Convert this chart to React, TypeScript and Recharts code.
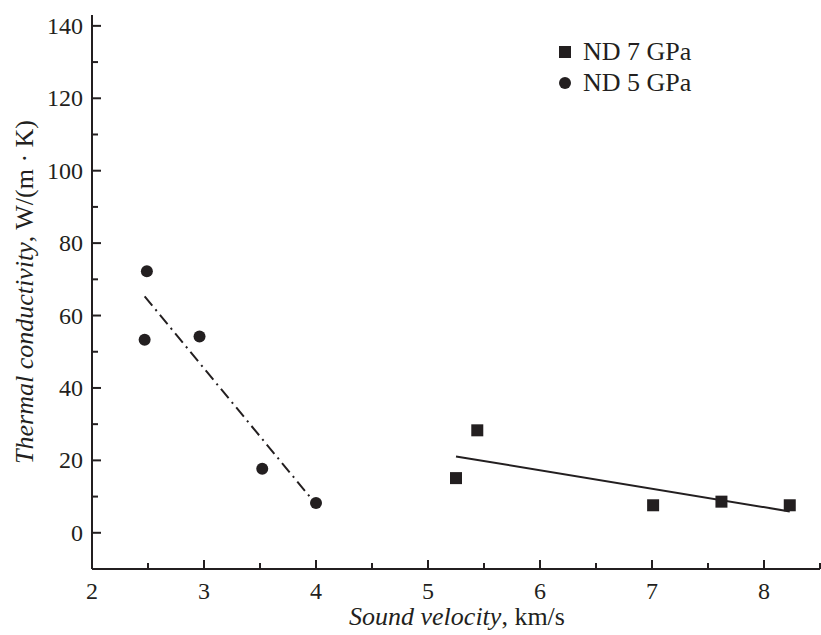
import React from 'react';
import { ScatterChart, Scatter, XAxis, YAxis, Label } from 'recharts';

// ND 5 GPa (circles)
const nd5Velocity = [2.49, 2.47, 2.96, 3.52, 4.0];
const nd5Conductivity = [72.2, 53.3, 54.2, 17.7, 8.2];
// ND 7 GPa (squares)
const nd7Velocity = [5.25, 5.44, 7.01, 7.62, 8.23];
const nd7Conductivity = [15.1, 28.3, 7.6, 8.6, 7.6];
// fitted lines (end points)
const fit5Velocity = [2.47, 3.97];
const fit5Conductivity = [65.3, 9.0];
const fit7Velocity = [5.25, 8.23];
const fit7Conductivity = [21.1, 5.9];

const xTicks = [2, 2.5, 3, 3.5, 4, 4.5, 5, 5.5, 6, 6.5, 7, 7.5, 8, 8.5];
const yTicks = [0, 10, 20, 30, 40, 50, 60, 70, 80, 90, 100, 110, 120, 130, 140];

const legendItems = ['ND 7 GPa', 'ND 5 GPa'];

const toPoints = (xs: number[], ys: number[]) => xs.map((x, i) => ({ x, y: ys[i] }));

const nd5 = toPoints(nd5Velocity, nd5Conductivity);
const nd7 = toPoints(nd7Velocity, nd7Conductivity);
const fit5 = toPoints(fit5Velocity, fit5Conductivity);
const fit7 = toPoints(fit7Velocity, fit7Conductivity);

const INK = '#231f20';
const FONT = "'Liberation Serif', serif";
const textStyle = { fontFamily: FONT, fontSize: 24 };
const titleStyle = { fontFamily: FONT, fontSize: 26 };

const XTick = (props: any) => {
  const { x, y, payload } = props;
  const v = payload.value;
  const major = Number.isInteger(v);
  return (
    <g>
      <line x1={x} x2={x} y1={y} y2={y - (major ? 9 : 6)} stroke={INK} strokeWidth={2} />
      {major && (
        <text x={x} y={y + 30} textAnchor="middle" fill={INK} style={textStyle}>
          {v}
        </text>
      )}
    </g>
  );
};

const YTick = (props: any) => {
  const { x, y, payload } = props;
  const v = payload.value;
  const major = v % 20 === 0;
  return (
    <g>
      <line x1={x} x2={x + (major ? 9 : 6)} y1={y} y2={y} stroke={INK} strokeWidth={2} />
      {major && (
        <text x={x - 9} y={y + 8} textAnchor="end" fill={INK} style={textStyle}>
          {v}
        </text>
      )}
    </g>
  );
};

const Square = (props: any) => {
  const { cx, cy } = props;
  return <rect x={cx - 6} y={cy - 6} width={12} height={12} fill={INK} />;
};

const Dot = (props: any) => {
  const { cx, cy } = props;
  return <circle cx={cx} cy={cy} r={6} fill={INK} />;
};

const NoShape = () => <g />;

export default function App() {
  return (
    <div style={{ position: 'absolute', left: 0, top: 0, width: 821, height: 635, background: '#fff' }}>
      <ScatterChart width={821} height={635} margin={{ top: 15, right: 1, bottom: 0, left: 0 }}>
        <XAxis
          dataKey="x"
          type="number"
          domain={[2, 8.5]}
          ticks={xTicks}
          interval={0}
          tickSize={0}
          tickMargin={0}
          tick={<XTick />}
          height={66}
          stroke={INK}
          strokeWidth={2}
        >
          <Label
            content={() => (
              <text x={457} y={625} textAnchor="middle" fill={INK} style={titleStyle}>
                <tspan fontStyle="italic">Sound velocity</tspan>
                <tspan>, km/s</tspan>
              </text>
            )}
          />
        </XAxis>
        <YAxis
          dataKey="y"
          type="number"
          domain={[-10, 143]}
          ticks={yTicks}
          interval={0}
          tickSize={0}
          tickMargin={0}
          tick={<YTick />}
          width={92}
          stroke={INK}
          strokeWidth={2}
        >
          <Label
            content={() => (
              <text
                x={33}
                y={292}
                transform="rotate(-90 33 292)"
                textAnchor="middle"
                fill={INK}
                style={titleStyle}
              >
                <tspan fontStyle="italic">Thermal conductivity</tspan>
                <tspan>, W/(m · K)</tspan>
              </text>
            )}
          />
        </YAxis>
        <Scatter
          name="fit5"
          data={fit5}
          line={{ stroke: INK, strokeWidth: 2, strokeDasharray: '12 5 2 5' }}
          shape={<NoShape />}
          legendType="none"
          isAnimationActive={false}
        />
        <Scatter
          name="fit7"
          data={fit7}
          line={{ stroke: INK, strokeWidth: 2 }}
          shape={<NoShape />}
          legendType="none"
          isAnimationActive={false}
        />
        <Scatter name="ND 7 GPa" data={nd7} shape={<Square />} isAnimationActive={false} />
        <Scatter name="ND 5 GPa" data={nd5} shape={<Dot />} isAnimationActive={false} />
      </ScatterChart>
      <div
        style={{
          position: 'absolute',
          left: 556,
          top: 36,
          fontFamily: FONT,
          fontSize: 26,
          color: INK,
          lineHeight: '31px',
        }}
      >
        {legendItems.map((name, i) => (
          <div key={name} style={{ display: 'flex', alignItems: 'center' }}>
            <svg width={18} height={14} style={{ marginRight: 9 }}>
              {i === 0 ? (
                <rect x={3} y={1} width={12} height={12} fill={INK} />
              ) : (
                <circle cx={9} cy={7} r={6} fill={INK} />
              )}
            </svg>
            <span>{name}</span>
          </div>
        ))}
      </div>
    </div>
  );
}
